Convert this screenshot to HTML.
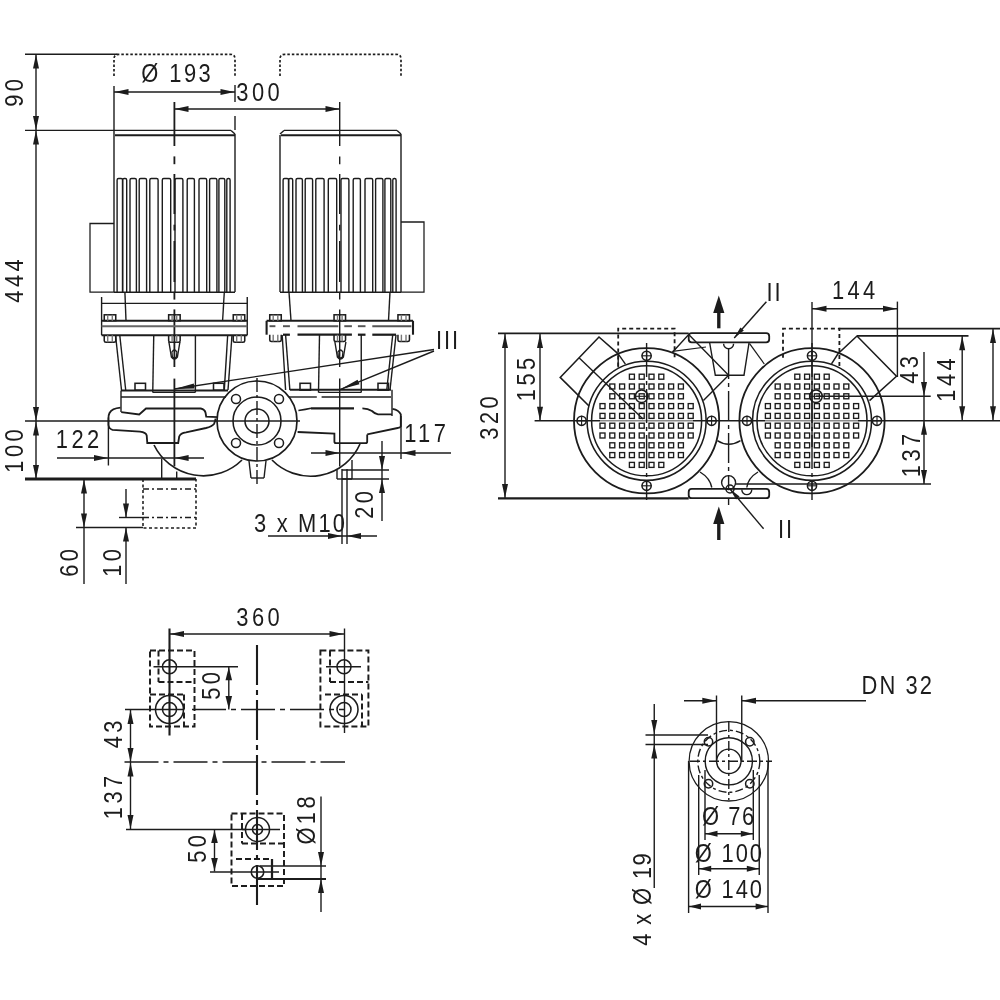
<!DOCTYPE html>
<html><head><meta charset="utf-8"><style>
html,body{margin:0;padding:0;background:#fff;}
svg{display:block;will-change:transform;}
text{font-family:"Liberation Sans",sans-serif;fill:#1c1c1c;}
</style></head><body>
<svg width="1000" height="1000" viewBox="0 0 1000 1000">
<rect width="1000" height="1000" fill="#fff"/>
<line x1="25.00" y1="54.30" x2="117.50" y2="54.30" stroke="#1c1c1c" stroke-width="1.40"/>
<line x1="36.00" y1="54.30" x2="36.00" y2="479.00" stroke="#1c1c1c" stroke-width="1.40"/>
<polygon points="36.00,54.50 39.00,68.50 33.00,68.50" fill="#1c1c1c"/>
<polygon points="36.00,130.00 33.00,116.00 39.00,116.00" fill="#1c1c1c"/>
<polygon points="36.00,130.50 39.00,144.50 33.00,144.50" fill="#1c1c1c"/>
<polygon points="36.00,421.00 33.00,407.00 39.00,407.00" fill="#1c1c1c"/>
<polygon points="36.00,421.50 39.00,435.50 33.00,435.50" fill="#1c1c1c"/>
<polygon points="36.00,479.00 33.00,465.00 39.00,465.00" fill="#1c1c1c"/>
<text x="1.95" y="0" font-size="25.5" text-anchor="middle" style="letter-spacing:3.9px" transform="translate(23.00,93.00) rotate(-90) scale(0.86,1)">90</text>
<text x="1.95" y="0" font-size="25.5" text-anchor="middle" style="letter-spacing:3.9px" transform="translate(23.00,281.00) rotate(-90) scale(0.86,1)">444</text>
<text x="1.95" y="0" font-size="25.5" text-anchor="middle" style="letter-spacing:3.9px" transform="translate(23.00,451.00) rotate(-90) scale(0.86,1)">100</text>
<line x1="25.00" y1="421.00" x2="300.00" y2="421.00" stroke="#1c1c1c" stroke-width="1.40"/>
<line x1="25.00" y1="479.00" x2="196.00" y2="479.00" stroke="#1c1c1c" stroke-width="3.08"/>
<path d="M114,76 V59 Q114,54.3 119,54.3 H230 Q235,54.3 235,59 V76" fill="none" stroke="#1c1c1c" stroke-width="1.68" stroke-dasharray="2.5 2"/>
<path d="M280,76 V59 Q280,54.3 285,54.3 H396 Q401,54.3 401,59 V76" fill="none" stroke="#1c1c1c" stroke-width="1.68" stroke-dasharray="2.5 2"/>
<line x1="114.00" y1="92.00" x2="235.00" y2="92.00" stroke="#1c1c1c" stroke-width="1.40"/>
<polygon points="114.50,92.00 128.50,89.00 128.50,95.00" fill="#1c1c1c"/>
<polygon points="234.50,92.00 220.50,95.00 220.50,89.00" fill="#1c1c1c"/>
<line x1="235.00" y1="85.00" x2="235.00" y2="102.00" stroke="#1c1c1c" stroke-width="1.40"/>
<line x1="235.00" y1="116.00" x2="235.00" y2="130.00" stroke="#1c1c1c" stroke-width="1.40"/>
<text x="1.40" y="0" font-size="25.5" text-anchor="middle" style="letter-spacing:2.8px" transform="translate(176.00,81.50) scale(0.86,1)">Ø 193</text>
<line x1="174.00" y1="109.00" x2="340.00" y2="109.00" stroke="#1c1c1c" stroke-width="1.40"/>
<polygon points="174.50,109.00 188.50,106.00 188.50,112.00" fill="#1c1c1c"/>
<polygon points="339.50,109.00 325.50,112.00 325.50,106.00" fill="#1c1c1c"/>
<text x="1.95" y="0" font-size="25.5" text-anchor="middle" style="letter-spacing:3.9px" transform="translate(258.00,101.00) scale(0.86,1)">300</text>
<line x1="174.40" y1="102.00" x2="174.40" y2="146.00" stroke="#1c1c1c" stroke-width="1.82"/>
<line x1="174.40" y1="156.40" x2="174.40" y2="164.20" stroke="#1c1c1c" stroke-width="1.82"/>
<line x1="174.40" y1="174.00" x2="174.40" y2="214.00" stroke="#1c1c1c" stroke-width="1.82"/>
<line x1="174.40" y1="224.70" x2="174.40" y2="230.50" stroke="#1c1c1c" stroke-width="1.82"/>
<line x1="174.40" y1="241.00" x2="174.40" y2="282.00" stroke="#1c1c1c" stroke-width="1.82"/>
<line x1="174.40" y1="291.80" x2="174.40" y2="299.60" stroke="#1c1c1c" stroke-width="1.82"/>
<line x1="174.40" y1="309.40" x2="174.40" y2="367.00" stroke="#1c1c1c" stroke-width="1.82"/>
<line x1="174.40" y1="378.60" x2="174.40" y2="466.40" stroke="#1c1c1c" stroke-width="1.82"/>
<line x1="339.70" y1="102.00" x2="339.70" y2="146.00" stroke="#1c1c1c" stroke-width="1.40"/>
<line x1="339.70" y1="156.40" x2="339.70" y2="164.20" stroke="#1c1c1c" stroke-width="1.40"/>
<line x1="339.70" y1="174.00" x2="339.70" y2="214.00" stroke="#1c1c1c" stroke-width="1.40"/>
<line x1="339.70" y1="224.70" x2="339.70" y2="230.50" stroke="#1c1c1c" stroke-width="1.40"/>
<line x1="339.70" y1="241.00" x2="339.70" y2="282.00" stroke="#1c1c1c" stroke-width="1.40"/>
<line x1="339.70" y1="291.80" x2="339.70" y2="299.60" stroke="#1c1c1c" stroke-width="1.40"/>
<line x1="339.70" y1="309.40" x2="339.70" y2="367.00" stroke="#1c1c1c" stroke-width="1.40"/>
<line x1="339.70" y1="378.60" x2="339.70" y2="466.40" stroke="#1c1c1c" stroke-width="1.40"/>
<line x1="114.00" y1="86.00" x2="114.00" y2="292.00" stroke="#1c1c1c" stroke-width="1.40"/>
<line x1="25.00" y1="130.40" x2="231.00" y2="130.40" stroke="#1c1c1c" stroke-width="1.40"/>
<line x1="231.00" y1="130.40" x2="235.00" y2="134.00" stroke="#1c1c1c" stroke-width="1.40"/>
<line x1="235.00" y1="134.00" x2="235.00" y2="292.00" stroke="#1c1c1c" stroke-width="1.40"/>
<line x1="115.00" y1="135.30" x2="235.00" y2="135.30" stroke="#1c1c1c" stroke-width="1.96"/>
<path d="M117.1,292 V180 Q117.1,178.5 118.6,178.5 H121.1 Q122.6,178.5 122.6,180 V292" fill="none" stroke="#1c1c1c" stroke-width="1.40"/>
<path d="M122.6,292 V180 Q122.6,178.5 124.1,178.5 H125.2 Q126.7,178.5 126.7,180 V292" fill="none" stroke="#1c1c1c" stroke-width="1.40"/>
<path d="M130,292 V180 Q130,178.5 131.5,178.5 H134.9 Q136.4,178.5 136.4,180 V292" fill="none" stroke="#1c1c1c" stroke-width="1.40"/>
<path d="M139.2,292 V180 Q139.2,178.5 140.7,178.5 H145.1 Q146.6,178.5 146.6,180 V292" fill="none" stroke="#1c1c1c" stroke-width="1.40"/>
<path d="M149.8,292 V180 Q149.8,178.5 151.3,178.5 H156.6 Q158.1,178.5 158.1,180 V292" fill="none" stroke="#1c1c1c" stroke-width="1.40"/>
<path d="M162.3,292 V180 Q162.3,178.5 163.8,178.5 H169.2 Q170.7,178.5 170.7,180 V292" fill="none" stroke="#1c1c1c" stroke-width="1.40"/>
<path d="M175,292 V180 Q175,178.5 176.5,178.5 H181.4 Q182.9,178.5 182.9,180 V292" fill="none" stroke="#1c1c1c" stroke-width="1.40"/>
<path d="M187.2,292 V180 Q187.2,178.5 188.7,178.5 H192.9 Q194.4,178.5 194.4,180 V292" fill="none" stroke="#1c1c1c" stroke-width="1.40"/>
<path d="M199,292 V180 Q199,178.5 200.5,178.5 H205.2 Q206.7,178.5 206.7,180 V292" fill="none" stroke="#1c1c1c" stroke-width="1.40"/>
<path d="M209.6,292 V180 Q209.6,178.5 211.1,178.5 H215.4 Q216.9,178.5 216.9,180 V292" fill="none" stroke="#1c1c1c" stroke-width="1.40"/>
<path d="M218.9,292 V180 Q218.9,178.5 220.4,178.5 H223.3 Q224.8,178.5 224.8,180 V292" fill="none" stroke="#1c1c1c" stroke-width="1.40"/>
<path d="M226.8,292 V180 Q226.8,178.5 228.3,178.5 H228.6 Q230.1,178.5 230.1,180 V292" fill="none" stroke="#1c1c1c" stroke-width="1.40"/>
<line x1="114.00" y1="292.20" x2="235.00" y2="292.20" stroke="#1c1c1c" stroke-width="1.54"/>
<polyline points="114.00,223.50 90.00,223.50 90.00,292.20 114.00,292.20" fill="none" stroke="#1c1c1c" stroke-width="1.26"/>
<line x1="280.00" y1="135.00" x2="280.00" y2="292.00" stroke="#1c1c1c" stroke-width="1.40"/>
<line x1="280.00" y1="134.00" x2="284.00" y2="130.40" stroke="#1c1c1c" stroke-width="1.40"/>
<line x1="284.00" y1="130.40" x2="397.00" y2="130.40" stroke="#1c1c1c" stroke-width="1.40"/>
<line x1="397.00" y1="130.40" x2="401.00" y2="134.00" stroke="#1c1c1c" stroke-width="1.40"/>
<line x1="401.00" y1="134.00" x2="401.00" y2="292.00" stroke="#1c1c1c" stroke-width="1.40"/>
<line x1="281.00" y1="135.30" x2="401.00" y2="135.30" stroke="#1c1c1c" stroke-width="1.96"/>
<path d="M283.1,292 V180 Q283.1,178.5 284.6,178.5 H287.1 Q288.6,178.5 288.6,180 V292" fill="none" stroke="#1c1c1c" stroke-width="1.40"/>
<path d="M288.6,292 V180 Q288.6,178.5 290.1,178.5 H291.2 Q292.7,178.5 292.7,180 V292" fill="none" stroke="#1c1c1c" stroke-width="1.40"/>
<path d="M296,292 V180 Q296,178.5 297.5,178.5 H300.9 Q302.4,178.5 302.4,180 V292" fill="none" stroke="#1c1c1c" stroke-width="1.40"/>
<path d="M305.2,292 V180 Q305.2,178.5 306.7,178.5 H311.1 Q312.6,178.5 312.6,180 V292" fill="none" stroke="#1c1c1c" stroke-width="1.40"/>
<path d="M315.8,292 V180 Q315.8,178.5 317.3,178.5 H322.6 Q324.1,178.5 324.1,180 V292" fill="none" stroke="#1c1c1c" stroke-width="1.40"/>
<path d="M328.3,292 V180 Q328.3,178.5 329.8,178.5 H335.2 Q336.7,178.5 336.7,180 V292" fill="none" stroke="#1c1c1c" stroke-width="1.40"/>
<path d="M341,292 V180 Q341,178.5 342.5,178.5 H347.4 Q348.9,178.5 348.9,180 V292" fill="none" stroke="#1c1c1c" stroke-width="1.40"/>
<path d="M353.2,292 V180 Q353.2,178.5 354.7,178.5 H358.9 Q360.4,178.5 360.4,180 V292" fill="none" stroke="#1c1c1c" stroke-width="1.40"/>
<path d="M365,292 V180 Q365,178.5 366.5,178.5 H371.2 Q372.7,178.5 372.7,180 V292" fill="none" stroke="#1c1c1c" stroke-width="1.40"/>
<path d="M375.6,292 V180 Q375.6,178.5 377.1,178.5 H381.4 Q382.9,178.5 382.9,180 V292" fill="none" stroke="#1c1c1c" stroke-width="1.40"/>
<path d="M384.9,292 V180 Q384.9,178.5 386.4,178.5 H389.3 Q390.8,178.5 390.8,180 V292" fill="none" stroke="#1c1c1c" stroke-width="1.40"/>
<path d="M392.8,292 V180 Q392.8,178.5 394.3,178.5 H394.6 Q396.1,178.5 396.1,180 V292" fill="none" stroke="#1c1c1c" stroke-width="1.40"/>
<line x1="280.00" y1="292.20" x2="401.00" y2="292.20" stroke="#1c1c1c" stroke-width="1.54"/>
<polyline points="401.00,222.00 424.00,222.00 424.00,292.20 401.00,292.20" fill="none" stroke="#1c1c1c" stroke-width="1.26"/>
<line x1="101.60" y1="297.00" x2="101.60" y2="335.20" stroke="#1c1c1c" stroke-width="1.40"/>
<line x1="247.25" y1="297.00" x2="247.25" y2="335.20" stroke="#1c1c1c" stroke-width="1.40"/>
<line x1="101.60" y1="303.40" x2="247.25" y2="303.40" stroke="#1c1c1c" stroke-width="1.26"/>
<line x1="124.90" y1="292.00" x2="126.00" y2="320.70" stroke="#1c1c1c" stroke-width="1.40"/>
<line x1="224.30" y1="292.00" x2="222.60" y2="320.70" stroke="#1c1c1c" stroke-width="1.40"/>
<line x1="101.60" y1="320.70" x2="247.25" y2="320.70" stroke="#1c1c1c" stroke-width="2.10"/>
<line x1="101.60" y1="326.30" x2="247.25" y2="326.30" stroke="#666" stroke-width="1.96"/>
<line x1="101.60" y1="335.20" x2="247.25" y2="335.20" stroke="#1c1c1c" stroke-width="2.10"/>
<rect x="104.25" y="314.80" width="11.50" height="5.90" fill="none" stroke="#1c1c1c" stroke-width="1.54"/>
<line x1="107.70" y1="314.80" x2="107.70" y2="320.70" stroke="#777" stroke-width="1.40"/>
<line x1="112.30" y1="314.80" x2="112.30" y2="320.70" stroke="#777" stroke-width="1.40"/>
<path d="M104.25,335.2 V340.7 Q104.25,342.2 106,342.2 H114 Q115.75,342.2 115.75,340.7 V335.2" fill="none" stroke="#1c1c1c" stroke-width="1.54"/>
<line x1="107.70" y1="335.20" x2="107.70" y2="342.20" stroke="#777" stroke-width="1.40"/>
<line x1="112.30" y1="335.20" x2="112.30" y2="342.20" stroke="#777" stroke-width="1.40"/>
<rect x="168.65" y="314.80" width="11.50" height="5.90" fill="none" stroke="#1c1c1c" stroke-width="1.54"/>
<line x1="172.10" y1="314.80" x2="172.10" y2="320.70" stroke="#777" stroke-width="1.40"/>
<line x1="176.70" y1="314.80" x2="176.70" y2="320.70" stroke="#777" stroke-width="1.40"/>
<path d="M168.65,335.2 V340.7 Q168.65,342.2 170.4,342.2 H178.4 Q180.15,342.2 180.15,340.7 V335.2" fill="none" stroke="#1c1c1c" stroke-width="1.54"/>
<line x1="172.10" y1="335.20" x2="172.10" y2="342.20" stroke="#777" stroke-width="1.40"/>
<line x1="176.70" y1="335.20" x2="176.70" y2="342.20" stroke="#777" stroke-width="1.40"/>
<rect x="233.25" y="314.80" width="11.50" height="5.90" fill="none" stroke="#1c1c1c" stroke-width="1.54"/>
<line x1="236.70" y1="314.80" x2="236.70" y2="320.70" stroke="#777" stroke-width="1.40"/>
<line x1="241.30" y1="314.80" x2="241.30" y2="320.70" stroke="#777" stroke-width="1.40"/>
<path d="M233.25,335.2 V340.7 Q233.25,342.2 235,342.2 H243 Q244.75,342.2 244.75,340.7 V335.2" fill="none" stroke="#1c1c1c" stroke-width="1.54"/>
<line x1="236.70" y1="335.20" x2="236.70" y2="342.20" stroke="#777" stroke-width="1.40"/>
<line x1="241.30" y1="335.20" x2="241.30" y2="342.20" stroke="#777" stroke-width="1.40"/>
<line x1="289.00" y1="292.00" x2="291.00" y2="320.80" stroke="#1c1c1c" stroke-width="1.40"/>
<line x1="390.00" y1="292.00" x2="388.50" y2="320.80" stroke="#1c1c1c" stroke-width="1.40"/>
<line x1="266.60" y1="320.80" x2="413.00" y2="320.80" stroke="#1c1c1c" stroke-width="2.10"/>
<line x1="266.60" y1="320.80" x2="266.60" y2="334.70" stroke="#1c1c1c" stroke-width="2.10"/>
<line x1="413.00" y1="320.80" x2="413.00" y2="334.70" stroke="#1c1c1c" stroke-width="2.10"/>
<line x1="269.50" y1="326.20" x2="275.40" y2="326.20" stroke="#555" stroke-width="1.96"/>
<line x1="283.00" y1="326.20" x2="289.90" y2="326.20" stroke="#555" stroke-width="1.96"/>
<line x1="297.50" y1="326.20" x2="338.30" y2="326.20" stroke="#555" stroke-width="1.96"/>
<line x1="344.30" y1="326.20" x2="351.90" y2="326.20" stroke="#555" stroke-width="1.96"/>
<line x1="357.90" y1="326.20" x2="365.50" y2="326.20" stroke="#555" stroke-width="1.96"/>
<line x1="372.30" y1="326.20" x2="411.40" y2="326.20" stroke="#555" stroke-width="1.96"/>
<line x1="283.00" y1="334.70" x2="289.90" y2="334.70" stroke="#1c1c1c" stroke-width="2.24"/>
<line x1="297.50" y1="334.70" x2="351.90" y2="334.70" stroke="#1c1c1c" stroke-width="2.24"/>
<line x1="357.90" y1="334.70" x2="365.50" y2="334.70" stroke="#1c1c1c" stroke-width="2.24"/>
<line x1="372.30" y1="334.70" x2="396.10" y2="334.70" stroke="#1c1c1c" stroke-width="2.24"/>
<rect x="269.75" y="314.80" width="11.50" height="6.00" fill="none" stroke="#1c1c1c" stroke-width="1.54"/>
<line x1="273.20" y1="314.80" x2="273.20" y2="320.80" stroke="#777" stroke-width="1.40"/>
<line x1="277.80" y1="314.80" x2="277.80" y2="320.80" stroke="#777" stroke-width="1.40"/>
<path d="M269.75,334.7 V340.0 Q269.75,341.5 271.5,341.5 H279.5 Q281.25,341.5 281.25,340.0 V334.7" fill="none" stroke="#1c1c1c" stroke-width="1.54"/>
<line x1="273.20" y1="334.70" x2="273.20" y2="341.50" stroke="#777" stroke-width="1.40"/>
<line x1="277.80" y1="334.70" x2="277.80" y2="341.50" stroke="#777" stroke-width="1.40"/>
<rect x="334.05" y="314.80" width="11.50" height="6.00" fill="none" stroke="#1c1c1c" stroke-width="1.54"/>
<line x1="337.50" y1="314.80" x2="337.50" y2="320.80" stroke="#777" stroke-width="1.40"/>
<line x1="342.10" y1="314.80" x2="342.10" y2="320.80" stroke="#777" stroke-width="1.40"/>
<path d="M334.05,334.7 V340.0 Q334.05,341.5 335.8,341.5 H343.8 Q345.55,341.5 345.55,340.0 V334.7" fill="none" stroke="#1c1c1c" stroke-width="1.54"/>
<line x1="337.50" y1="334.70" x2="337.50" y2="341.50" stroke="#777" stroke-width="1.40"/>
<line x1="342.10" y1="334.70" x2="342.10" y2="341.50" stroke="#777" stroke-width="1.40"/>
<rect x="397.95" y="314.80" width="11.50" height="6.00" fill="none" stroke="#1c1c1c" stroke-width="1.54"/>
<line x1="401.40" y1="314.80" x2="401.40" y2="320.80" stroke="#777" stroke-width="1.40"/>
<line x1="406.00" y1="314.80" x2="406.00" y2="320.80" stroke="#777" stroke-width="1.40"/>
<path d="M397.95,334.7 V340.0 Q397.95,341.5 399.7,341.5 H407.7 Q409.45,341.5 409.45,340.0 V334.7" fill="none" stroke="#1c1c1c" stroke-width="1.54"/>
<line x1="401.40" y1="334.70" x2="401.40" y2="341.50" stroke="#777" stroke-width="1.40"/>
<line x1="406.00" y1="334.70" x2="406.00" y2="341.50" stroke="#777" stroke-width="1.40"/>
<line x1="115.50" y1="335.00" x2="121.50" y2="390.00" stroke="#1c1c1c" stroke-width="1.40"/>
<line x1="119.75" y1="335.00" x2="125.70" y2="390.00" stroke="#1c1c1c" stroke-width="1.40"/>
<line x1="232.00" y1="335.00" x2="228.00" y2="390.00" stroke="#1c1c1c" stroke-width="1.40"/>
<line x1="227.70" y1="335.00" x2="224.30" y2="390.00" stroke="#1c1c1c" stroke-width="1.40"/>
<line x1="153.75" y1="335.00" x2="152.75" y2="392.40" stroke="#1c1c1c" stroke-width="1.40"/>
<line x1="195.40" y1="335.00" x2="195.40" y2="392.40" stroke="#1c1c1c" stroke-width="1.40"/>
<line x1="152.75" y1="392.40" x2="195.40" y2="392.40" stroke="#1c1c1c" stroke-width="1.40"/>
<rect x="135.00" y="383.30" width="10.50" height="6.90" fill="none" stroke="#1c1c1c" stroke-width="1.54"/>
<rect x="213.50" y="383.30" width="10.50" height="6.90" fill="none" stroke="#1c1c1c" stroke-width="1.54"/>
<path d="M168.9,342 L171.4,357 Q174.4,361 177.4,357 L179.9,342" fill="none" stroke="#1c1c1c" stroke-width="1.40"/>
<path d="M171.9,352 Q174.4,348 176.9,352 L176.4,357 Q174.4,359 172.4,357 Z" fill="none" stroke="#1c1c1c" stroke-width="1.26"/>
<line x1="282.20" y1="335.00" x2="285.60" y2="390.00" stroke="#1c1c1c" stroke-width="1.40"/>
<line x1="285.60" y1="335.00" x2="289.85" y2="390.00" stroke="#1c1c1c" stroke-width="1.40"/>
<line x1="396.00" y1="335.00" x2="390.00" y2="390.00" stroke="#1c1c1c" stroke-width="1.40"/>
<line x1="392.70" y1="335.00" x2="386.75" y2="390.00" stroke="#1c1c1c" stroke-width="1.40"/>
<line x1="319.50" y1="335.00" x2="318.50" y2="392.40" stroke="#1c1c1c" stroke-width="1.40"/>
<line x1="361.25" y1="335.00" x2="361.25" y2="392.40" stroke="#1c1c1c" stroke-width="1.40"/>
<line x1="318.50" y1="392.40" x2="361.25" y2="392.40" stroke="#1c1c1c" stroke-width="1.40"/>
<rect x="300.00" y="383.30" width="10.50" height="6.90" fill="none" stroke="#1c1c1c" stroke-width="1.54"/>
<rect x="378.00" y="383.30" width="10.50" height="6.90" fill="none" stroke="#1c1c1c" stroke-width="1.54"/>
<path d="M334.9,342 L337.4,357 Q340.4,361 343.4,357 L345.9,342" fill="none" stroke="#1c1c1c" stroke-width="1.40"/>
<path d="M337.9,352 Q340.4,348 342.9,352 L342.4,357 Q340.4,359 338.4,357 Z" fill="none" stroke="#1c1c1c" stroke-width="1.26"/>
<line x1="121.00" y1="390.60" x2="228.00" y2="390.60" stroke="#1c1c1c" stroke-width="1.96"/>
<line x1="121.00" y1="397.00" x2="226.00" y2="397.00" stroke="#1c1c1c" stroke-width="1.40"/>
<line x1="121.00" y1="390.60" x2="121.00" y2="412.00" stroke="#1c1c1c" stroke-width="1.40"/>
<path d="M121.2,412.2 L139.2,414.5 L146,408.5 L200.7,408.5 Q205,409.5 205.6,413 L206.2,416.7 L218,417.2" fill="none" stroke="#1c1c1c" stroke-width="1.82"/>
<path d="M120.5,407.7 Q112,408.5 109.5,413 Q108.5,415 108.5,418 L108.5,425 Q109,429 112.5,429.8 L140,431.7 Q146,432.5 146.7,435.5 L147.3,443 L178.2,443 L179.2,436.5 Q180.5,433 186,432.3 L206,428 Q212,426.5 214,424 Q215.5,421 215.5,418.5" fill="none" stroke="#1c1c1c" stroke-width="1.82"/>
<path d="M154,445 A55,55 0 0 0 242,460" fill="none" stroke="#1c1c1c" stroke-width="1.68"/>
<line x1="161.70" y1="458.70" x2="161.70" y2="479.00" stroke="#1c1c1c" stroke-width="1.40"/>
<line x1="176.70" y1="471.50" x2="176.70" y2="479.00" stroke="#1c1c1c" stroke-width="1.40"/>
<line x1="108.40" y1="417.50" x2="108.40" y2="465.50" stroke="#1c1c1c" stroke-width="1.40"/>
<line x1="57.00" y1="458.00" x2="204.00" y2="458.00" stroke="#1c1c1c" stroke-width="1.40"/>
<polygon points="108.00,458.00 94.00,461.00 94.00,455.00" fill="#1c1c1c"/>
<polygon points="174.60,458.00 188.60,455.00 188.60,461.00" fill="#1c1c1c"/>
<text x="1.95" y="0" font-size="25.5" text-anchor="middle" style="letter-spacing:3.9px" transform="translate(77.50,447.50) scale(0.86,1)">122</text>
<line x1="289.85" y1="389.65" x2="391.00" y2="389.65" stroke="#1c1c1c" stroke-width="1.96"/>
<line x1="288.80" y1="397.00" x2="316.80" y2="397.00" stroke="#1c1c1c" stroke-width="1.40"/>
<line x1="321.60" y1="397.00" x2="391.00" y2="397.00" stroke="#1c1c1c" stroke-width="1.40"/>
<line x1="392.00" y1="389.65" x2="392.00" y2="416.00" stroke="#1c1c1c" stroke-width="1.40"/>
<path d="M298.4,410.4 Q306,409.5 311,408.3" fill="none" stroke="#1c1c1c" stroke-width="1.54"/>
<line x1="311.00" y1="408.30" x2="354.00" y2="408.30" stroke="#1c1c1c" stroke-width="2.24"/>
<path d="M362.4,408.3 Q368,408.5 372,411 Q375,414 378,414.4 L392,414.4" fill="none" stroke="#1c1c1c" stroke-width="1.82"/>
<path d="M392.5,408.8 Q399,410 400.8,414.4 L400.8,426.4 Q400,428 397.6,428 L367.2,434.4" fill="none" stroke="#1c1c1c" stroke-width="1.82"/>
<path d="M297.6,432 L334.4,433.6 L334.4,441.5 Q334.4,443.2 336,443.2 L365.5,443.2 Q367.2,443.2 367.2,441.5 L367.2,434.4" fill="none" stroke="#1c1c1c" stroke-width="1.82"/>
<path d="M272,460 A54,54 0 0 0 360,444" fill="none" stroke="#1c1c1c" stroke-width="1.68"/>
<circle cx="257.00" cy="421.00" r="40.00" fill="none" stroke="#1c1c1c" stroke-width="1.68"/>
<circle cx="257.00" cy="421.00" r="24.00" fill="none" stroke="#1c1c1c" stroke-width="1.54"/>
<circle cx="257.00" cy="421.00" r="12.00" fill="none" stroke="#1c1c1c" stroke-width="1.54"/>
<circle cx="236.00" cy="399.00" r="4.50" fill="none" stroke="#1c1c1c" stroke-width="1.54"/>
<circle cx="279.00" cy="399.00" r="4.50" fill="none" stroke="#1c1c1c" stroke-width="1.54"/>
<circle cx="236.00" cy="443.00" r="4.50" fill="none" stroke="#1c1c1c" stroke-width="1.54"/>
<circle cx="279.00" cy="443.00" r="4.50" fill="none" stroke="#1c1c1c" stroke-width="1.54"/>
<line x1="257.00" y1="378.00" x2="257.00" y2="484.00" stroke="#1c1c1c" stroke-width="1.40" stroke-dasharray="14 3 3 3"/>
<line x1="249.00" y1="461.00" x2="251.00" y2="478.00" stroke="#1c1c1c" stroke-width="1.40"/>
<line x1="251.00" y1="478.00" x2="264.00" y2="478.00" stroke="#1c1c1c" stroke-width="1.40"/>
<line x1="264.00" y1="478.00" x2="266.00" y2="461.00" stroke="#1c1c1c" stroke-width="1.40"/>
<line x1="311.00" y1="453.00" x2="451.00" y2="453.00" stroke="#1c1c1c" stroke-width="1.40"/>
<polygon points="339.50,453.00 325.50,456.00 325.50,450.00" fill="#1c1c1c"/>
<polygon points="401.50,453.00 415.50,450.00 415.50,456.00" fill="#1c1c1c"/>
<line x1="401.00" y1="416.00" x2="401.00" y2="459.00" stroke="#1c1c1c" stroke-width="1.40"/>
<text x="1.95" y="0" font-size="25.5" text-anchor="middle" style="letter-spacing:3.9px" transform="translate(425.00,441.50) scale(0.86,1)">117</text>
<line x1="342.00" y1="469.00" x2="342.00" y2="544.00" stroke="#1c1c1c" stroke-width="1.40"/>
<line x1="347.00" y1="469.00" x2="347.00" y2="544.00" stroke="#1c1c1c" stroke-width="1.40"/>
<line x1="342.00" y1="470.00" x2="389.00" y2="470.00" stroke="#1c1c1c" stroke-width="1.40"/>
<line x1="342.00" y1="479.00" x2="389.00" y2="479.00" stroke="#1c1c1c" stroke-width="1.40"/>
<line x1="337.00" y1="470.00" x2="337.00" y2="479.00" stroke="#1c1c1c" stroke-width="1.40"/>
<line x1="352.00" y1="460.00" x2="352.00" y2="479.00" stroke="#1c1c1c" stroke-width="1.40"/>
<line x1="337.00" y1="479.00" x2="352.00" y2="479.00" stroke="#1c1c1c" stroke-width="1.40"/>
<line x1="382.00" y1="441.00" x2="382.00" y2="521.00" stroke="#1c1c1c" stroke-width="1.40"/>
<polygon points="382.00,470.00 379.00,456.00 385.00,456.00" fill="#1c1c1c"/>
<polygon points="382.00,479.00 385.00,493.00 379.00,493.00" fill="#1c1c1c"/>
<text x="1.95" y="0" font-size="25.5" text-anchor="middle" style="letter-spacing:3.9px" transform="translate(373.00,505.00) rotate(-90) scale(0.86,1)">20</text>
<line x1="268.00" y1="536.00" x2="377.00" y2="536.00" stroke="#1c1c1c" stroke-width="1.40"/>
<polygon points="342.00,536.00 328.00,539.00 328.00,533.00" fill="#1c1c1c"/>
<polygon points="347.00,536.00 361.00,533.00 361.00,539.00" fill="#1c1c1c"/>
<text x="1.25" y="0" font-size="25.5" text-anchor="middle" style="letter-spacing:2.5px" transform="translate(299.50,532.00) scale(0.86,1)">3 x M10</text>
<text x="1.10" y="0" font-size="25.5" text-anchor="middle" style="letter-spacing:2.2px" transform="translate(447.00,349.00) scale(0.86,1)">III</text>
<line x1="434.00" y1="349.50" x2="174.40" y2="389.00" stroke="#1c1c1c" stroke-width="1.40"/>
<line x1="434.00" y1="351.00" x2="340.00" y2="389.60" stroke="#1c1c1c" stroke-width="1.40"/>
<polygon points="174.40,389.00 193.80,383.53 194.55,388.47" fill="#1c1c1c"/>
<polygon points="340.00,389.60 357.57,379.72 359.46,384.35" fill="#1c1c1c"/>
<line x1="84.00" y1="479.00" x2="84.00" y2="584.00" stroke="#1c1c1c" stroke-width="1.40"/>
<polygon points="84.00,479.50 87.00,493.50 81.00,493.50" fill="#1c1c1c"/>
<polygon points="84.00,527.50 81.00,513.50 87.00,513.50" fill="#1c1c1c"/>
<line x1="76.00" y1="527.50" x2="143.00" y2="527.50" stroke="#1c1c1c" stroke-width="1.40"/>
<line x1="126.00" y1="489.00" x2="126.00" y2="517.50" stroke="#1c1c1c" stroke-width="1.40"/>
<polygon points="126.00,517.50 123.00,503.50 129.00,503.50" fill="#1c1c1c"/>
<line x1="126.00" y1="527.50" x2="126.00" y2="584.00" stroke="#1c1c1c" stroke-width="1.40"/>
<polygon points="126.00,527.50 129.00,541.50 123.00,541.50" fill="#1c1c1c"/>
<line x1="119.00" y1="517.50" x2="143.00" y2="517.50" stroke="#1c1c1c" stroke-width="1.40"/>
<text x="1.95" y="0" font-size="25.5" text-anchor="middle" style="letter-spacing:3.9px" transform="translate(78.00,563.00) rotate(-90) scale(0.86,1)">60</text>
<text x="1.95" y="0" font-size="25.5" text-anchor="middle" style="letter-spacing:3.9px" transform="translate(121.00,563.00) rotate(-90) scale(0.86,1)">10</text>
<polyline points="143.00,479.00 143.00,528.00 196.00,528.00 196.00,479.00" fill="none" stroke="#1c1c1c" stroke-width="1.54" stroke-dasharray="3 2.5"/>
<line x1="143.00" y1="489.00" x2="196.00" y2="489.00" stroke="#1c1c1c" stroke-width="1.40" stroke-dasharray="6 3 2 3"/>
<line x1="143.00" y1="517.50" x2="196.00" y2="517.50" stroke="#1c1c1c" stroke-width="1.40" stroke-dasharray="6 3 2 3"/>
<line x1="505.00" y1="333.60" x2="505.00" y2="498.50" stroke="#1c1c1c" stroke-width="1.40"/>
<polygon points="505.00,334.00 508.00,348.00 502.00,348.00" fill="#1c1c1c"/>
<polygon points="505.00,498.00 502.00,484.00 508.00,484.00" fill="#1c1c1c"/>
<text x="1.95" y="0" font-size="25.5" text-anchor="middle" style="letter-spacing:3.9px" transform="translate(498.00,418.00) rotate(-90) scale(0.86,1)">320</text>
<line x1="498.00" y1="333.40" x2="688.70" y2="333.40" stroke="#1c1c1c" stroke-width="1.82"/>
<line x1="498.00" y1="498.30" x2="688.70" y2="498.30" stroke="#1c1c1c" stroke-width="2.24"/>
<line x1="540.00" y1="333.60" x2="540.00" y2="421.00" stroke="#1c1c1c" stroke-width="1.40"/>
<polygon points="540.00,334.00 543.00,348.00 537.00,348.00" fill="#1c1c1c"/>
<polygon points="540.00,420.80 537.00,406.80 543.00,406.80" fill="#1c1c1c"/>
<text x="1.95" y="0" font-size="25.5" text-anchor="middle" style="letter-spacing:3.9px" transform="translate(535.00,379.50) rotate(-90) scale(0.86,1)">155</text>
<line x1="534.60" y1="420.80" x2="600.00" y2="420.80" stroke="#1c1c1c" stroke-width="1.40"/>
<line x1="600.00" y1="420.80" x2="693.00" y2="420.80" stroke="#8a8a8a" stroke-width="1.40"/>
<line x1="693.00" y1="420.80" x2="765.00" y2="420.80" stroke="#1c1c1c" stroke-width="1.40"/>
<line x1="765.00" y1="420.80" x2="858.00" y2="420.80" stroke="#8a8a8a" stroke-width="1.40"/>
<line x1="858.00" y1="420.80" x2="1000.00" y2="420.80" stroke="#1c1c1c" stroke-width="1.40"/>
<circle cx="646.60" cy="420.80" r="72.60" fill="none" stroke="#1c1c1c" stroke-width="1.82"/>
<circle cx="646.60" cy="420.80" r="59.50" fill="none" stroke="#1c1c1c" stroke-width="1.54"/>
<circle cx="646.60" cy="420.80" r="55.00" fill="none" stroke="#1c1c1c" stroke-width="1.54"/>
<rect x="629.40" y="374.20" width="5" height="5" fill="none" stroke="#1c1c1c" stroke-width="1.35"/>
<rect x="639.20" y="374.20" width="5" height="5" fill="none" stroke="#1c1c1c" stroke-width="1.35"/>
<rect x="649.00" y="374.20" width="5" height="5" fill="none" stroke="#1c1c1c" stroke-width="1.35"/>
<rect x="658.80" y="374.20" width="5" height="5" fill="none" stroke="#1c1c1c" stroke-width="1.35"/>
<rect x="609.80" y="384.00" width="5" height="5" fill="none" stroke="#1c1c1c" stroke-width="1.35"/>
<rect x="619.60" y="384.00" width="5" height="5" fill="none" stroke="#1c1c1c" stroke-width="1.35"/>
<rect x="629.40" y="384.00" width="5" height="5" fill="none" stroke="#1c1c1c" stroke-width="1.35"/>
<rect x="639.20" y="384.00" width="5" height="5" fill="none" stroke="#1c1c1c" stroke-width="1.35"/>
<rect x="649.00" y="384.00" width="5" height="5" fill="none" stroke="#1c1c1c" stroke-width="1.35"/>
<rect x="658.80" y="384.00" width="5" height="5" fill="none" stroke="#1c1c1c" stroke-width="1.35"/>
<rect x="668.60" y="384.00" width="5" height="5" fill="none" stroke="#1c1c1c" stroke-width="1.35"/>
<rect x="678.40" y="384.00" width="5" height="5" fill="none" stroke="#1c1c1c" stroke-width="1.35"/>
<rect x="609.80" y="393.80" width="5" height="5" fill="none" stroke="#1c1c1c" stroke-width="1.35"/>
<rect x="619.60" y="393.80" width="5" height="5" fill="none" stroke="#1c1c1c" stroke-width="1.35"/>
<rect x="629.40" y="393.80" width="5" height="5" fill="none" stroke="#1c1c1c" stroke-width="1.35"/>
<rect x="639.20" y="393.80" width="5" height="5" fill="none" stroke="#1c1c1c" stroke-width="1.35"/>
<rect x="649.00" y="393.80" width="5" height="5" fill="none" stroke="#1c1c1c" stroke-width="1.35"/>
<rect x="658.80" y="393.80" width="5" height="5" fill="none" stroke="#1c1c1c" stroke-width="1.35"/>
<rect x="668.60" y="393.80" width="5" height="5" fill="none" stroke="#1c1c1c" stroke-width="1.35"/>
<rect x="678.40" y="393.80" width="5" height="5" fill="none" stroke="#1c1c1c" stroke-width="1.35"/>
<rect x="600.00" y="403.60" width="5" height="5" fill="none" stroke="#1c1c1c" stroke-width="1.35"/>
<rect x="609.80" y="403.60" width="5" height="5" fill="none" stroke="#1c1c1c" stroke-width="1.35"/>
<rect x="619.60" y="403.60" width="5" height="5" fill="none" stroke="#1c1c1c" stroke-width="1.35"/>
<rect x="629.40" y="403.60" width="5" height="5" fill="none" stroke="#1c1c1c" stroke-width="1.35"/>
<rect x="639.20" y="403.60" width="5" height="5" fill="none" stroke="#1c1c1c" stroke-width="1.35"/>
<rect x="649.00" y="403.60" width="5" height="5" fill="none" stroke="#1c1c1c" stroke-width="1.35"/>
<rect x="658.80" y="403.60" width="5" height="5" fill="none" stroke="#1c1c1c" stroke-width="1.35"/>
<rect x="668.60" y="403.60" width="5" height="5" fill="none" stroke="#1c1c1c" stroke-width="1.35"/>
<rect x="678.40" y="403.60" width="5" height="5" fill="none" stroke="#1c1c1c" stroke-width="1.35"/>
<rect x="688.20" y="403.60" width="5" height="5" fill="none" stroke="#1c1c1c" stroke-width="1.35"/>
<rect x="600.00" y="413.40" width="5" height="5" fill="none" stroke="#1c1c1c" stroke-width="1.35"/>
<rect x="609.80" y="413.40" width="5" height="5" fill="none" stroke="#1c1c1c" stroke-width="1.35"/>
<rect x="619.60" y="413.40" width="5" height="5" fill="none" stroke="#1c1c1c" stroke-width="1.35"/>
<rect x="629.40" y="413.40" width="5" height="5" fill="none" stroke="#1c1c1c" stroke-width="1.35"/>
<rect x="639.20" y="413.40" width="5" height="5" fill="none" stroke="#1c1c1c" stroke-width="1.35"/>
<rect x="649.00" y="413.40" width="5" height="5" fill="none" stroke="#1c1c1c" stroke-width="1.35"/>
<rect x="658.80" y="413.40" width="5" height="5" fill="none" stroke="#1c1c1c" stroke-width="1.35"/>
<rect x="668.60" y="413.40" width="5" height="5" fill="none" stroke="#1c1c1c" stroke-width="1.35"/>
<rect x="678.40" y="413.40" width="5" height="5" fill="none" stroke="#1c1c1c" stroke-width="1.35"/>
<rect x="688.20" y="413.40" width="5" height="5" fill="none" stroke="#1c1c1c" stroke-width="1.35"/>
<rect x="600.00" y="423.20" width="5" height="5" fill="none" stroke="#1c1c1c" stroke-width="1.35"/>
<rect x="609.80" y="423.20" width="5" height="5" fill="none" stroke="#1c1c1c" stroke-width="1.35"/>
<rect x="619.60" y="423.20" width="5" height="5" fill="none" stroke="#1c1c1c" stroke-width="1.35"/>
<rect x="629.40" y="423.20" width="5" height="5" fill="none" stroke="#1c1c1c" stroke-width="1.35"/>
<rect x="639.20" y="423.20" width="5" height="5" fill="none" stroke="#1c1c1c" stroke-width="1.35"/>
<rect x="649.00" y="423.20" width="5" height="5" fill="none" stroke="#1c1c1c" stroke-width="1.35"/>
<rect x="658.80" y="423.20" width="5" height="5" fill="none" stroke="#1c1c1c" stroke-width="1.35"/>
<rect x="668.60" y="423.20" width="5" height="5" fill="none" stroke="#1c1c1c" stroke-width="1.35"/>
<rect x="678.40" y="423.20" width="5" height="5" fill="none" stroke="#1c1c1c" stroke-width="1.35"/>
<rect x="688.20" y="423.20" width="5" height="5" fill="none" stroke="#1c1c1c" stroke-width="1.35"/>
<rect x="600.00" y="433.00" width="5" height="5" fill="none" stroke="#1c1c1c" stroke-width="1.35"/>
<rect x="609.80" y="433.00" width="5" height="5" fill="none" stroke="#1c1c1c" stroke-width="1.35"/>
<rect x="619.60" y="433.00" width="5" height="5" fill="none" stroke="#1c1c1c" stroke-width="1.35"/>
<rect x="629.40" y="433.00" width="5" height="5" fill="none" stroke="#1c1c1c" stroke-width="1.35"/>
<rect x="639.20" y="433.00" width="5" height="5" fill="none" stroke="#1c1c1c" stroke-width="1.35"/>
<rect x="649.00" y="433.00" width="5" height="5" fill="none" stroke="#1c1c1c" stroke-width="1.35"/>
<rect x="658.80" y="433.00" width="5" height="5" fill="none" stroke="#1c1c1c" stroke-width="1.35"/>
<rect x="668.60" y="433.00" width="5" height="5" fill="none" stroke="#1c1c1c" stroke-width="1.35"/>
<rect x="678.40" y="433.00" width="5" height="5" fill="none" stroke="#1c1c1c" stroke-width="1.35"/>
<rect x="688.20" y="433.00" width="5" height="5" fill="none" stroke="#1c1c1c" stroke-width="1.35"/>
<rect x="609.80" y="442.80" width="5" height="5" fill="none" stroke="#1c1c1c" stroke-width="1.35"/>
<rect x="619.60" y="442.80" width="5" height="5" fill="none" stroke="#1c1c1c" stroke-width="1.35"/>
<rect x="629.40" y="442.80" width="5" height="5" fill="none" stroke="#1c1c1c" stroke-width="1.35"/>
<rect x="639.20" y="442.80" width="5" height="5" fill="none" stroke="#1c1c1c" stroke-width="1.35"/>
<rect x="649.00" y="442.80" width="5" height="5" fill="none" stroke="#1c1c1c" stroke-width="1.35"/>
<rect x="658.80" y="442.80" width="5" height="5" fill="none" stroke="#1c1c1c" stroke-width="1.35"/>
<rect x="668.60" y="442.80" width="5" height="5" fill="none" stroke="#1c1c1c" stroke-width="1.35"/>
<rect x="678.40" y="442.80" width="5" height="5" fill="none" stroke="#1c1c1c" stroke-width="1.35"/>
<rect x="609.80" y="452.60" width="5" height="5" fill="none" stroke="#1c1c1c" stroke-width="1.35"/>
<rect x="619.60" y="452.60" width="5" height="5" fill="none" stroke="#1c1c1c" stroke-width="1.35"/>
<rect x="629.40" y="452.60" width="5" height="5" fill="none" stroke="#1c1c1c" stroke-width="1.35"/>
<rect x="639.20" y="452.60" width="5" height="5" fill="none" stroke="#1c1c1c" stroke-width="1.35"/>
<rect x="649.00" y="452.60" width="5" height="5" fill="none" stroke="#1c1c1c" stroke-width="1.35"/>
<rect x="658.80" y="452.60" width="5" height="5" fill="none" stroke="#1c1c1c" stroke-width="1.35"/>
<rect x="668.60" y="452.60" width="5" height="5" fill="none" stroke="#1c1c1c" stroke-width="1.35"/>
<rect x="678.40" y="452.60" width="5" height="5" fill="none" stroke="#1c1c1c" stroke-width="1.35"/>
<rect x="629.40" y="462.40" width="5" height="5" fill="none" stroke="#1c1c1c" stroke-width="1.35"/>
<rect x="639.20" y="462.40" width="5" height="5" fill="none" stroke="#1c1c1c" stroke-width="1.35"/>
<rect x="649.00" y="462.40" width="5" height="5" fill="none" stroke="#1c1c1c" stroke-width="1.35"/>
<rect x="658.80" y="462.40" width="5" height="5" fill="none" stroke="#1c1c1c" stroke-width="1.35"/>
<circle cx="646.60" cy="355.80" r="4.60" fill="none" stroke="#1c1c1c" stroke-width="1.54"/>
<line x1="641.60" y1="355.80" x2="651.60" y2="355.80" stroke="#1c1c1c" stroke-width="1.12"/>
<line x1="646.60" y1="350.80" x2="646.60" y2="360.80" stroke="#1c1c1c" stroke-width="1.12"/>
<circle cx="646.60" cy="485.80" r="4.60" fill="none" stroke="#1c1c1c" stroke-width="1.54"/>
<line x1="641.60" y1="485.80" x2="651.60" y2="485.80" stroke="#1c1c1c" stroke-width="1.12"/>
<line x1="646.60" y1="480.80" x2="646.60" y2="490.80" stroke="#1c1c1c" stroke-width="1.12"/>
<circle cx="581.60" cy="420.80" r="4.60" fill="none" stroke="#1c1c1c" stroke-width="1.54"/>
<line x1="576.60" y1="420.80" x2="586.60" y2="420.80" stroke="#1c1c1c" stroke-width="1.12"/>
<line x1="581.60" y1="415.80" x2="581.60" y2="425.80" stroke="#1c1c1c" stroke-width="1.12"/>
<circle cx="711.60" cy="420.80" r="4.60" fill="none" stroke="#1c1c1c" stroke-width="1.54"/>
<line x1="706.60" y1="420.80" x2="716.60" y2="420.80" stroke="#1c1c1c" stroke-width="1.12"/>
<line x1="711.60" y1="415.80" x2="711.60" y2="425.80" stroke="#1c1c1c" stroke-width="1.12"/>
<circle cx="641.60" cy="396.30" r="6.20" fill="none" stroke="#1c1c1c" stroke-width="1.54"/>
<line x1="634.60" y1="396.30" x2="648.60" y2="396.30" stroke="#1c1c1c" stroke-width="1.12"/>
<line x1="646.60" y1="343.00" x2="646.60" y2="500.00" stroke="#1c1c1c" stroke-width="1.40" stroke-dasharray="34 4 4 4"/>
<circle cx="812.00" cy="420.80" r="72.60" fill="none" stroke="#1c1c1c" stroke-width="1.82"/>
<circle cx="812.00" cy="420.80" r="59.50" fill="none" stroke="#1c1c1c" stroke-width="1.54"/>
<circle cx="812.00" cy="420.80" r="55.00" fill="none" stroke="#1c1c1c" stroke-width="1.54"/>
<rect x="794.80" y="374.20" width="5" height="5" fill="none" stroke="#1c1c1c" stroke-width="1.35"/>
<rect x="804.60" y="374.20" width="5" height="5" fill="none" stroke="#1c1c1c" stroke-width="1.35"/>
<rect x="814.40" y="374.20" width="5" height="5" fill="none" stroke="#1c1c1c" stroke-width="1.35"/>
<rect x="824.20" y="374.20" width="5" height="5" fill="none" stroke="#1c1c1c" stroke-width="1.35"/>
<rect x="775.20" y="384.00" width="5" height="5" fill="none" stroke="#1c1c1c" stroke-width="1.35"/>
<rect x="785.00" y="384.00" width="5" height="5" fill="none" stroke="#1c1c1c" stroke-width="1.35"/>
<rect x="794.80" y="384.00" width="5" height="5" fill="none" stroke="#1c1c1c" stroke-width="1.35"/>
<rect x="804.60" y="384.00" width="5" height="5" fill="none" stroke="#1c1c1c" stroke-width="1.35"/>
<rect x="814.40" y="384.00" width="5" height="5" fill="none" stroke="#1c1c1c" stroke-width="1.35"/>
<rect x="824.20" y="384.00" width="5" height="5" fill="none" stroke="#1c1c1c" stroke-width="1.35"/>
<rect x="834.00" y="384.00" width="5" height="5" fill="none" stroke="#1c1c1c" stroke-width="1.35"/>
<rect x="843.80" y="384.00" width="5" height="5" fill="none" stroke="#1c1c1c" stroke-width="1.35"/>
<rect x="775.20" y="393.80" width="5" height="5" fill="none" stroke="#1c1c1c" stroke-width="1.35"/>
<rect x="785.00" y="393.80" width="5" height="5" fill="none" stroke="#1c1c1c" stroke-width="1.35"/>
<rect x="794.80" y="393.80" width="5" height="5" fill="none" stroke="#1c1c1c" stroke-width="1.35"/>
<rect x="804.60" y="393.80" width="5" height="5" fill="none" stroke="#1c1c1c" stroke-width="1.35"/>
<rect x="814.40" y="393.80" width="5" height="5" fill="none" stroke="#1c1c1c" stroke-width="1.35"/>
<rect x="824.20" y="393.80" width="5" height="5" fill="none" stroke="#1c1c1c" stroke-width="1.35"/>
<rect x="834.00" y="393.80" width="5" height="5" fill="none" stroke="#1c1c1c" stroke-width="1.35"/>
<rect x="843.80" y="393.80" width="5" height="5" fill="none" stroke="#1c1c1c" stroke-width="1.35"/>
<rect x="765.40" y="403.60" width="5" height="5" fill="none" stroke="#1c1c1c" stroke-width="1.35"/>
<rect x="775.20" y="403.60" width="5" height="5" fill="none" stroke="#1c1c1c" stroke-width="1.35"/>
<rect x="785.00" y="403.60" width="5" height="5" fill="none" stroke="#1c1c1c" stroke-width="1.35"/>
<rect x="794.80" y="403.60" width="5" height="5" fill="none" stroke="#1c1c1c" stroke-width="1.35"/>
<rect x="804.60" y="403.60" width="5" height="5" fill="none" stroke="#1c1c1c" stroke-width="1.35"/>
<rect x="814.40" y="403.60" width="5" height="5" fill="none" stroke="#1c1c1c" stroke-width="1.35"/>
<rect x="824.20" y="403.60" width="5" height="5" fill="none" stroke="#1c1c1c" stroke-width="1.35"/>
<rect x="834.00" y="403.60" width="5" height="5" fill="none" stroke="#1c1c1c" stroke-width="1.35"/>
<rect x="843.80" y="403.60" width="5" height="5" fill="none" stroke="#1c1c1c" stroke-width="1.35"/>
<rect x="853.60" y="403.60" width="5" height="5" fill="none" stroke="#1c1c1c" stroke-width="1.35"/>
<rect x="765.40" y="413.40" width="5" height="5" fill="none" stroke="#1c1c1c" stroke-width="1.35"/>
<rect x="775.20" y="413.40" width="5" height="5" fill="none" stroke="#1c1c1c" stroke-width="1.35"/>
<rect x="785.00" y="413.40" width="5" height="5" fill="none" stroke="#1c1c1c" stroke-width="1.35"/>
<rect x="794.80" y="413.40" width="5" height="5" fill="none" stroke="#1c1c1c" stroke-width="1.35"/>
<rect x="804.60" y="413.40" width="5" height="5" fill="none" stroke="#1c1c1c" stroke-width="1.35"/>
<rect x="814.40" y="413.40" width="5" height="5" fill="none" stroke="#1c1c1c" stroke-width="1.35"/>
<rect x="824.20" y="413.40" width="5" height="5" fill="none" stroke="#1c1c1c" stroke-width="1.35"/>
<rect x="834.00" y="413.40" width="5" height="5" fill="none" stroke="#1c1c1c" stroke-width="1.35"/>
<rect x="843.80" y="413.40" width="5" height="5" fill="none" stroke="#1c1c1c" stroke-width="1.35"/>
<rect x="853.60" y="413.40" width="5" height="5" fill="none" stroke="#1c1c1c" stroke-width="1.35"/>
<rect x="765.40" y="423.20" width="5" height="5" fill="none" stroke="#1c1c1c" stroke-width="1.35"/>
<rect x="775.20" y="423.20" width="5" height="5" fill="none" stroke="#1c1c1c" stroke-width="1.35"/>
<rect x="785.00" y="423.20" width="5" height="5" fill="none" stroke="#1c1c1c" stroke-width="1.35"/>
<rect x="794.80" y="423.20" width="5" height="5" fill="none" stroke="#1c1c1c" stroke-width="1.35"/>
<rect x="804.60" y="423.20" width="5" height="5" fill="none" stroke="#1c1c1c" stroke-width="1.35"/>
<rect x="814.40" y="423.20" width="5" height="5" fill="none" stroke="#1c1c1c" stroke-width="1.35"/>
<rect x="824.20" y="423.20" width="5" height="5" fill="none" stroke="#1c1c1c" stroke-width="1.35"/>
<rect x="834.00" y="423.20" width="5" height="5" fill="none" stroke="#1c1c1c" stroke-width="1.35"/>
<rect x="843.80" y="423.20" width="5" height="5" fill="none" stroke="#1c1c1c" stroke-width="1.35"/>
<rect x="853.60" y="423.20" width="5" height="5" fill="none" stroke="#1c1c1c" stroke-width="1.35"/>
<rect x="765.40" y="433.00" width="5" height="5" fill="none" stroke="#1c1c1c" stroke-width="1.35"/>
<rect x="775.20" y="433.00" width="5" height="5" fill="none" stroke="#1c1c1c" stroke-width="1.35"/>
<rect x="785.00" y="433.00" width="5" height="5" fill="none" stroke="#1c1c1c" stroke-width="1.35"/>
<rect x="794.80" y="433.00" width="5" height="5" fill="none" stroke="#1c1c1c" stroke-width="1.35"/>
<rect x="804.60" y="433.00" width="5" height="5" fill="none" stroke="#1c1c1c" stroke-width="1.35"/>
<rect x="814.40" y="433.00" width="5" height="5" fill="none" stroke="#1c1c1c" stroke-width="1.35"/>
<rect x="824.20" y="433.00" width="5" height="5" fill="none" stroke="#1c1c1c" stroke-width="1.35"/>
<rect x="834.00" y="433.00" width="5" height="5" fill="none" stroke="#1c1c1c" stroke-width="1.35"/>
<rect x="843.80" y="433.00" width="5" height="5" fill="none" stroke="#1c1c1c" stroke-width="1.35"/>
<rect x="853.60" y="433.00" width="5" height="5" fill="none" stroke="#1c1c1c" stroke-width="1.35"/>
<rect x="775.20" y="442.80" width="5" height="5" fill="none" stroke="#1c1c1c" stroke-width="1.35"/>
<rect x="785.00" y="442.80" width="5" height="5" fill="none" stroke="#1c1c1c" stroke-width="1.35"/>
<rect x="794.80" y="442.80" width="5" height="5" fill="none" stroke="#1c1c1c" stroke-width="1.35"/>
<rect x="804.60" y="442.80" width="5" height="5" fill="none" stroke="#1c1c1c" stroke-width="1.35"/>
<rect x="814.40" y="442.80" width="5" height="5" fill="none" stroke="#1c1c1c" stroke-width="1.35"/>
<rect x="824.20" y="442.80" width="5" height="5" fill="none" stroke="#1c1c1c" stroke-width="1.35"/>
<rect x="834.00" y="442.80" width="5" height="5" fill="none" stroke="#1c1c1c" stroke-width="1.35"/>
<rect x="843.80" y="442.80" width="5" height="5" fill="none" stroke="#1c1c1c" stroke-width="1.35"/>
<rect x="775.20" y="452.60" width="5" height="5" fill="none" stroke="#1c1c1c" stroke-width="1.35"/>
<rect x="785.00" y="452.60" width="5" height="5" fill="none" stroke="#1c1c1c" stroke-width="1.35"/>
<rect x="794.80" y="452.60" width="5" height="5" fill="none" stroke="#1c1c1c" stroke-width="1.35"/>
<rect x="804.60" y="452.60" width="5" height="5" fill="none" stroke="#1c1c1c" stroke-width="1.35"/>
<rect x="814.40" y="452.60" width="5" height="5" fill="none" stroke="#1c1c1c" stroke-width="1.35"/>
<rect x="824.20" y="452.60" width="5" height="5" fill="none" stroke="#1c1c1c" stroke-width="1.35"/>
<rect x="834.00" y="452.60" width="5" height="5" fill="none" stroke="#1c1c1c" stroke-width="1.35"/>
<rect x="843.80" y="452.60" width="5" height="5" fill="none" stroke="#1c1c1c" stroke-width="1.35"/>
<rect x="794.80" y="462.40" width="5" height="5" fill="none" stroke="#1c1c1c" stroke-width="1.35"/>
<rect x="804.60" y="462.40" width="5" height="5" fill="none" stroke="#1c1c1c" stroke-width="1.35"/>
<rect x="814.40" y="462.40" width="5" height="5" fill="none" stroke="#1c1c1c" stroke-width="1.35"/>
<rect x="824.20" y="462.40" width="5" height="5" fill="none" stroke="#1c1c1c" stroke-width="1.35"/>
<circle cx="812.00" cy="355.80" r="4.60" fill="none" stroke="#1c1c1c" stroke-width="1.54"/>
<line x1="807.00" y1="355.80" x2="817.00" y2="355.80" stroke="#1c1c1c" stroke-width="1.12"/>
<line x1="812.00" y1="350.80" x2="812.00" y2="360.80" stroke="#1c1c1c" stroke-width="1.12"/>
<circle cx="812.00" cy="485.80" r="4.60" fill="none" stroke="#1c1c1c" stroke-width="1.54"/>
<line x1="807.00" y1="485.80" x2="817.00" y2="485.80" stroke="#1c1c1c" stroke-width="1.12"/>
<line x1="812.00" y1="480.80" x2="812.00" y2="490.80" stroke="#1c1c1c" stroke-width="1.12"/>
<circle cx="747.00" cy="420.80" r="4.60" fill="none" stroke="#1c1c1c" stroke-width="1.54"/>
<line x1="742.00" y1="420.80" x2="752.00" y2="420.80" stroke="#1c1c1c" stroke-width="1.12"/>
<line x1="747.00" y1="415.80" x2="747.00" y2="425.80" stroke="#1c1c1c" stroke-width="1.12"/>
<circle cx="877.00" cy="420.80" r="4.60" fill="none" stroke="#1c1c1c" stroke-width="1.54"/>
<line x1="872.00" y1="420.80" x2="882.00" y2="420.80" stroke="#1c1c1c" stroke-width="1.12"/>
<line x1="877.00" y1="415.80" x2="877.00" y2="425.80" stroke="#1c1c1c" stroke-width="1.12"/>
<circle cx="816.00" cy="396.30" r="6.20" fill="none" stroke="#1c1c1c" stroke-width="1.54"/>
<line x1="809.00" y1="396.30" x2="823.00" y2="396.30" stroke="#1c1c1c" stroke-width="1.12"/>
<line x1="812.00" y1="343.00" x2="812.00" y2="500.00" stroke="#1c1c1c" stroke-width="1.40" stroke-dasharray="34 4 4 4"/>
<polyline points="618.20,353.80 599.00,337.00 560.20,377.40 589.00,406.00" fill="none" stroke="#1c1c1c" stroke-width="1.54"/>
<line x1="579.00" y1="357.80" x2="643.00" y2="419.00" stroke="#1c1c1c" stroke-width="1.40"/>
<line x1="618.20" y1="353.80" x2="618.20" y2="367.40" stroke="#1c1c1c" stroke-width="1.40"/>
<line x1="618.20" y1="353.80" x2="625.40" y2="364.20" stroke="#1c1c1c" stroke-width="1.40"/>
<polyline points="672.00,352.80 688.70,334.50 728.60,375.20 703.40,400.40" fill="none" stroke="#1c1c1c" stroke-width="1.40"/>
<polyline points="709.70,343.00 715.30,375.20 744.00,375.20 749.00,343.00" fill="none" stroke="#1c1c1c" stroke-width="1.40"/>
<line x1="672.60" y1="351.40" x2="706.00" y2="347.00" stroke="#1c1c1c" stroke-width="1.26"/>
<line x1="749.60" y1="343.70" x2="764.30" y2="364.00" stroke="#1c1c1c" stroke-width="1.26"/>
<polyline points="831.50,363.80 838.00,353.80 857.00,336.00 896.50,376.30 869.50,400.60" fill="none" stroke="#1c1c1c" stroke-width="1.54"/>
<polyline points="618.20,366.60 618.20,328.60 674.60,328.60 674.60,357.80" fill="none" stroke="#1c1c1c" stroke-width="1.82" stroke-dasharray="4 3"/>
<polyline points="783.00,357.70 783.00,328.60 839.40,328.60 839.40,368.00" fill="none" stroke="#1c1c1c" stroke-width="1.82" stroke-dasharray="4 3"/>
<rect x="688.70" y="333.20" width="80.50" height="9.10" fill="none" stroke="#1c1c1c" stroke-width="1.82" rx="3"/>
<rect x="688.70" y="488.90" width="80.50" height="9.30" fill="none" stroke="#1c1c1c" stroke-width="1.82" rx="3"/>
<path d="M723.6,343.7 A5,5 0 0 0 733.6,343.7" fill="none" stroke="#1c1c1c" stroke-width="1.40"/>
<line x1="728.60" y1="349.00" x2="728.60" y2="488.00" stroke="#1c1c1c" stroke-width="1.40" stroke-dasharray="30 4 4 4"/>
<line x1="728.60" y1="498.00" x2="728.60" y2="505.00" stroke="#1c1c1c" stroke-width="1.40"/>
<path d="M717.4,440.6 Q728.6,448 740.5,440.6" fill="none" stroke="#1c1c1c" stroke-width="1.40"/>
<path d="M700,472 Q710,478 711.8,487.5" fill="none" stroke="#1c1c1c" stroke-width="1.40"/>
<path d="M758,472 Q748,478 746.8,487.5" fill="none" stroke="#1c1c1c" stroke-width="1.40"/>
<circle cx="728.60" cy="482.60" r="7.00" fill="none" stroke="#1c1c1c" stroke-width="1.40"/>
<circle cx="730.00" cy="489.00" r="4.00" fill="none" stroke="#1c1c1c" stroke-width="1.54"/>
<path d="M741.8,489.6 A5,5 0 0 0 751.8,489.6" fill="none" stroke="#1c1c1c" stroke-width="1.40"/>
<line x1="735.60" y1="484.00" x2="931.00" y2="484.00" stroke="#1c1c1c" stroke-width="1.40"/>
<polygon points="718.8,295.4 713.2,313 724.4,313" fill="#1c1c1c"/>
<line x1="718.80" y1="312.00" x2="718.80" y2="328.30" stroke="#1c1c1c" stroke-width="3.36"/>
<polygon points="718.8,506.4 713.2,524 724.4,524" fill="#1c1c1c"/>
<line x1="718.80" y1="523.00" x2="718.80" y2="540.00" stroke="#1c1c1c" stroke-width="3.36"/>
<text x="1.10" y="0" font-size="25.5" text-anchor="middle" style="letter-spacing:2.2px" transform="translate(773.50,300.50) scale(0.86,1)">II</text>
<text x="1.10" y="0" font-size="25.5" text-anchor="middle" style="letter-spacing:2.2px" transform="translate(785.00,537.50) scale(0.86,1)">II</text>
<line x1="766.40" y1="301.70" x2="734.20" y2="338.00" stroke="#1c1c1c" stroke-width="1.40"/>
<polygon points="734.20,338.00 740.40,327.47 743.85,330.51" fill="#1c1c1c"/>
<line x1="763.60" y1="528.80" x2="730.00" y2="489.00" stroke="#1c1c1c" stroke-width="1.40"/>
<polygon points="730.00,489.00 739.55,496.62 736.05,499.61" fill="#1c1c1c"/>
<line x1="812.00" y1="302.00" x2="812.00" y2="447.00" stroke="#1c1c1c" stroke-width="1.40"/>
<line x1="812.00" y1="308.80" x2="897.40" y2="308.80" stroke="#1c1c1c" stroke-width="1.40"/>
<polygon points="812.50,308.80 826.50,305.80 826.50,311.80" fill="#1c1c1c"/>
<polygon points="897.00,308.80 883.00,311.80 883.00,305.80" fill="#1c1c1c"/>
<line x1="897.40" y1="301.60" x2="897.40" y2="377.00" stroke="#1c1c1c" stroke-width="1.40"/>
<text x="1.95" y="0" font-size="25.5" text-anchor="middle" style="letter-spacing:3.9px" transform="translate(853.60,299.00) scale(0.86,1)">144</text>
<line x1="839.40" y1="328.60" x2="1000.00" y2="328.60" stroke="#1c1c1c" stroke-width="1.68"/>
<line x1="857.00" y1="335.80" x2="968.50" y2="335.80" stroke="#1c1c1c" stroke-width="1.68"/>
<line x1="962.20" y1="335.80" x2="962.20" y2="420.80" stroke="#1c1c1c" stroke-width="1.40"/>
<polygon points="962.20,336.30 965.20,350.30 959.20,350.30" fill="#1c1c1c"/>
<polygon points="962.20,420.30 959.20,406.30 965.20,406.30" fill="#1c1c1c"/>
<text x="1.95" y="0" font-size="25.5" text-anchor="middle" style="letter-spacing:3.9px" transform="translate(955.00,380.00) rotate(-90) scale(0.86,1)">144</text>
<line x1="993.00" y1="328.60" x2="993.00" y2="420.80" stroke="#1c1c1c" stroke-width="1.40"/>
<polygon points="993.00,329.00 996.00,343.00 990.00,343.00" fill="#1c1c1c"/>
<polygon points="993.00,420.30 990.00,406.30 996.00,406.30" fill="#1c1c1c"/>
<line x1="924.00" y1="352.00" x2="924.00" y2="484.00" stroke="#1c1c1c" stroke-width="1.40"/>
<polygon points="924.00,396.00 921.00,382.00 927.00,382.00" fill="#1c1c1c"/>
<polygon points="924.00,420.80 927.00,434.80 921.00,434.80" fill="#1c1c1c"/>
<polygon points="924.00,484.00 921.00,470.00 927.00,470.00" fill="#1c1c1c"/>
<line x1="816.00" y1="396.20" x2="930.70" y2="396.20" stroke="#1c1c1c" stroke-width="1.40"/>
<text x="1.95" y="0" font-size="25.5" text-anchor="middle" style="letter-spacing:3.9px" transform="translate(918.00,370.00) rotate(-90) scale(0.86,1)">43</text>
<text x="1.95" y="0" font-size="25.5" text-anchor="middle" style="letter-spacing:3.9px" transform="translate(919.50,455.50) rotate(-90) scale(0.86,1)">137</text>
<line x1="169.50" y1="628.50" x2="169.50" y2="735.50" stroke="#1c1c1c" stroke-width="2.10"/>
<line x1="344.50" y1="628.50" x2="344.50" y2="733.00" stroke="#1c1c1c" stroke-width="1.40"/>
<line x1="169.50" y1="634.00" x2="344.00" y2="634.00" stroke="#1c1c1c" stroke-width="1.40"/>
<polygon points="170.00,634.00 184.00,631.00 184.00,637.00" fill="#1c1c1c"/>
<polygon points="343.50,634.00 329.50,637.00 329.50,631.00" fill="#1c1c1c"/>
<text x="1.95" y="0" font-size="25.5" text-anchor="middle" style="letter-spacing:3.9px" transform="translate(258.00,625.50) scale(0.86,1)">360</text>
<line x1="257.00" y1="645.00" x2="257.00" y2="910.00" stroke="#1c1c1c" stroke-width="2.10" stroke-dasharray="40 5 5 5"/>
<circle cx="169.50" cy="666.80" r="7.00" fill="none" stroke="#1c1c1c" stroke-width="1.54"/>
<circle cx="169.50" cy="709.50" r="14.00" fill="none" stroke="#1c1c1c" stroke-width="1.54"/>
<circle cx="169.50" cy="709.50" r="7.00" fill="none" stroke="#1c1c1c" stroke-width="1.54"/>
<rect x="150.00" y="650.50" width="44.50" height="76.00" fill="none" stroke="#1c1c1c" stroke-width="1.96" stroke-dasharray="6 3"/>
<line x1="158.50" y1="682.00" x2="194.50" y2="682.00" stroke="#1c1c1c" stroke-width="1.96" stroke-dasharray="6 3"/>
<line x1="158.50" y1="650.50" x2="158.50" y2="682.00" stroke="#1c1c1c" stroke-width="1.96" stroke-dasharray="6 3"/>
<line x1="150.00" y1="694.50" x2="184.00" y2="694.50" stroke="#1c1c1c" stroke-width="1.96" stroke-dasharray="6 3"/>
<line x1="184.00" y1="694.50" x2="184.00" y2="726.50" stroke="#1c1c1c" stroke-width="1.96" stroke-dasharray="6 3"/>
<circle cx="344.00" cy="666.80" r="7.00" fill="none" stroke="#1c1c1c" stroke-width="1.54"/>
<circle cx="344.00" cy="709.50" r="14.00" fill="none" stroke="#1c1c1c" stroke-width="1.54"/>
<circle cx="344.00" cy="709.50" r="7.00" fill="none" stroke="#1c1c1c" stroke-width="1.54"/>
<rect x="320.40" y="650.50" width="48.00" height="76.00" fill="none" stroke="#1c1c1c" stroke-width="1.96" stroke-dasharray="6 3"/>
<line x1="330.00" y1="650.50" x2="330.00" y2="682.00" stroke="#1c1c1c" stroke-width="1.96" stroke-dasharray="6 3"/>
<line x1="330.00" y1="682.00" x2="368.40" y2="682.00" stroke="#1c1c1c" stroke-width="1.96" stroke-dasharray="6 3"/>
<line x1="325.00" y1="694.50" x2="362.00" y2="694.50" stroke="#1c1c1c" stroke-width="1.96" stroke-dasharray="6 3"/>
<line x1="362.00" y1="694.50" x2="362.00" y2="726.50" stroke="#1c1c1c" stroke-width="1.96" stroke-dasharray="6 3"/>
<line x1="326.00" y1="666.80" x2="361.00" y2="666.80" stroke="#1c1c1c" stroke-width="1.40"/>
<line x1="153.50" y1="666.80" x2="238.00" y2="666.80" stroke="#1c1c1c" stroke-width="1.40"/>
<line x1="125.00" y1="709.50" x2="184.00" y2="709.50" stroke="#1c1c1c" stroke-width="1.40"/>
<line x1="192.00" y1="709.50" x2="344.00" y2="709.50" stroke="#1c1c1c" stroke-width="1.40" stroke-dasharray="34 5 5 5"/>
<line x1="228.80" y1="666.80" x2="228.80" y2="709.50" stroke="#1c1c1c" stroke-width="1.40"/>
<polygon points="228.80,667.30 232.10,680.30 225.50,680.30" fill="#1c1c1c"/>
<polygon points="228.80,709.00 225.50,696.00 232.10,696.00" fill="#1c1c1c"/>
<text x="1.95" y="0" font-size="25.5" text-anchor="middle" style="letter-spacing:3.9px" transform="translate(220.00,686.00) rotate(-90) scale(0.86,1)">50</text>
<line x1="130.50" y1="709.50" x2="130.50" y2="829.50" stroke="#1c1c1c" stroke-width="1.40"/>
<polygon points="130.50,710.00 133.50,724.00 127.50,724.00" fill="#1c1c1c"/>
<polygon points="130.50,762.00 127.50,748.00 133.50,748.00" fill="#1c1c1c"/>
<polygon points="130.50,762.50 133.50,776.50 127.50,776.50" fill="#1c1c1c"/>
<polygon points="130.50,829.00 127.50,815.00 133.50,815.00" fill="#1c1c1c"/>
<line x1="124.50" y1="762.00" x2="345.00" y2="762.00" stroke="#1c1c1c" stroke-width="1.40" stroke-dasharray="34 5 5 5"/>
<text x="1.95" y="0" font-size="25.5" text-anchor="middle" style="letter-spacing:3.9px" transform="translate(121.50,734.50) rotate(-90) scale(0.86,1)">43</text>
<text x="1.95" y="0" font-size="25.5" text-anchor="middle" style="letter-spacing:3.9px" transform="translate(121.50,797.50) rotate(-90) scale(0.86,1)">137</text>
<line x1="126.00" y1="829.50" x2="246.00" y2="829.50" stroke="#1c1c1c" stroke-width="1.40"/>
<circle cx="257.50" cy="829.50" r="12.00" fill="none" stroke="#1c1c1c" stroke-width="1.54"/>
<circle cx="257.50" cy="829.50" r="5.00" fill="none" stroke="#1c1c1c" stroke-width="1.54"/>
<circle cx="257.50" cy="872.00" r="6.25" fill="none" stroke="#1c1c1c" stroke-width="1.54"/>
<rect x="231.50" y="813.50" width="52.50" height="72.50" fill="none" stroke="#1c1c1c" stroke-width="1.96" stroke-dasharray="6 3"/>
<line x1="242.00" y1="814.00" x2="242.00" y2="843.50" stroke="#1c1c1c" stroke-width="1.96" stroke-dasharray="6 3"/>
<line x1="242.00" y1="843.50" x2="284.00" y2="843.50" stroke="#1c1c1c" stroke-width="1.96" stroke-dasharray="6 3"/>
<line x1="236.00" y1="859.00" x2="272.00" y2="859.00" stroke="#1c1c1c" stroke-width="1.96" stroke-dasharray="6 3"/>
<line x1="272.00" y1="859.00" x2="272.00" y2="880.00" stroke="#1c1c1c" stroke-width="2.24"/>
<line x1="242.00" y1="829.50" x2="280.00" y2="829.50" stroke="#1c1c1c" stroke-width="1.40"/>
<line x1="210.00" y1="872.00" x2="279.00" y2="872.00" stroke="#1c1c1c" stroke-width="1.40"/>
<line x1="214.50" y1="829.50" x2="214.50" y2="871.50" stroke="#1c1c1c" stroke-width="1.40"/>
<polygon points="214.50,830.00 217.80,843.00 211.20,843.00" fill="#1c1c1c"/>
<polygon points="214.50,871.00 211.20,858.00 217.80,858.00" fill="#1c1c1c"/>
<text x="1.95" y="0" font-size="25.5" text-anchor="middle" style="letter-spacing:3.9px" transform="translate(205.50,849.00) rotate(-90) scale(0.86,1)">50</text>
<line x1="260.00" y1="866.00" x2="326.00" y2="866.00" stroke="#1c1c1c" stroke-width="1.40"/>
<line x1="257.50" y1="879.00" x2="326.00" y2="879.00" stroke="#1c1c1c" stroke-width="1.82"/>
<line x1="321.00" y1="796.50" x2="321.00" y2="912.00" stroke="#1c1c1c" stroke-width="1.40"/>
<polygon points="321.00,866.00 318.00,852.00 324.00,852.00" fill="#1c1c1c"/>
<polygon points="321.00,879.00 324.00,893.00 318.00,893.00" fill="#1c1c1c"/>
<text x="1.95" y="0" font-size="25.5" text-anchor="middle" style="letter-spacing:3.9px" transform="translate(315.00,820.50) rotate(-90) scale(0.86,1)">Ø18</text>
<circle cx="728.80" cy="761.30" r="39.70" fill="none" stroke="#1c1c1c" stroke-width="1.26"/>
<circle cx="728.80" cy="761.30" r="31.00" fill="none" stroke="#1c1c1c" stroke-width="1.40" stroke-dasharray="8 3 3 3"/>
<circle cx="728.80" cy="761.30" r="23.60" fill="none" stroke="#1c1c1c" stroke-width="1.40"/>
<circle cx="728.80" cy="761.30" r="12.20" fill="none" stroke="#1c1c1c" stroke-width="1.40"/>
<circle cx="708.50" cy="741.70" r="4.20" fill="none" stroke="#1c1c1c" stroke-width="1.54"/>
<circle cx="749.80" cy="741.70" r="4.20" fill="none" stroke="#1c1c1c" stroke-width="1.54"/>
<circle cx="708.50" cy="783.70" r="4.20" fill="none" stroke="#1c1c1c" stroke-width="1.54"/>
<circle cx="749.80" cy="783.70" r="4.20" fill="none" stroke="#1c1c1c" stroke-width="1.54"/>
<line x1="728.80" y1="722.00" x2="728.80" y2="800.00" stroke="#1c1c1c" stroke-width="1.40" stroke-dasharray="10 3 3 3"/>
<line x1="690.00" y1="761.30" x2="772.00" y2="761.30" stroke="#1c1c1c" stroke-width="1.40" stroke-dasharray="10 3 3 3"/>
<line x1="716.50" y1="695.50" x2="716.50" y2="761.00" stroke="#1c1c1c" stroke-width="1.40"/>
<line x1="741.75" y1="695.50" x2="741.75" y2="761.00" stroke="#1c1c1c" stroke-width="1.40"/>
<line x1="684.00" y1="700.75" x2="716.50" y2="700.75" stroke="#1c1c1c" stroke-width="1.40"/>
<polygon points="716.30,700.75 702.30,703.75 702.30,697.75" fill="#1c1c1c"/>
<line x1="741.75" y1="700.75" x2="866.00" y2="700.75" stroke="#1c1c1c" stroke-width="1.40"/>
<polygon points="742.00,700.75 756.00,697.75 756.00,703.75" fill="#1c1c1c"/>
<text x="1.20" y="0" font-size="25.5" text-anchor="middle" style="letter-spacing:2.4px" transform="translate(896.80,694.00) scale(0.86,1)">DN 32</text>
<line x1="654.25" y1="704.00" x2="654.25" y2="888.00" stroke="#1c1c1c" stroke-width="1.40"/>
<polygon points="654.25,734.00 651.25,720.00 657.25,720.00" fill="#1c1c1c"/>
<polygon points="654.25,744.50 657.25,758.50 651.25,758.50" fill="#1c1c1c"/>
<line x1="645.50" y1="735.00" x2="708.00" y2="735.00" stroke="#1c1c1c" stroke-width="1.40"/>
<line x1="645.50" y1="744.50" x2="708.00" y2="744.50" stroke="#1c1c1c" stroke-width="1.40"/>
<text x="0.80" y="0" font-size="25.5" text-anchor="middle" style="letter-spacing:1.6px" transform="translate(650.50,899.50) rotate(-90) scale(0.86,1)">4 x Ø 19</text>
<line x1="705.00" y1="770.00" x2="705.00" y2="840.00" stroke="#1c1c1c" stroke-width="1.40"/>
<line x1="753.30" y1="770.00" x2="753.30" y2="840.00" stroke="#1c1c1c" stroke-width="1.40"/>
<line x1="705.00" y1="833.75" x2="753.30" y2="833.75" stroke="#1c1c1c" stroke-width="1.40"/>
<polygon points="705.50,833.75 717.50,830.75 717.50,836.75" fill="#1c1c1c"/>
<polygon points="752.80,833.75 740.80,836.75 740.80,830.75" fill="#1c1c1c"/>
<text x="0.90" y="0" font-size="25.5" text-anchor="middle" style="letter-spacing:1.8px" transform="translate(728.00,825.00) scale(0.86,1)">Ø 76</text>
<line x1="698.70" y1="775.00" x2="698.70" y2="875.00" stroke="#1c1c1c" stroke-width="1.40"/>
<line x1="759.25" y1="775.00" x2="759.25" y2="875.00" stroke="#1c1c1c" stroke-width="1.40"/>
<line x1="698.70" y1="868.75" x2="759.25" y2="868.75" stroke="#1c1c1c" stroke-width="1.40"/>
<polygon points="699.20,868.75 711.20,865.75 711.20,871.75" fill="#1c1c1c"/>
<polygon points="758.80,868.75 746.80,871.75 746.80,865.75" fill="#1c1c1c"/>
<text x="1.10" y="0" font-size="25.5" text-anchor="middle" style="letter-spacing:2.2px" transform="translate(728.30,861.50) scale(0.86,1)">Ø 100</text>
<line x1="688.60" y1="761.00" x2="688.60" y2="913.00" stroke="#1c1c1c" stroke-width="1.40"/>
<line x1="768.00" y1="761.00" x2="768.00" y2="913.00" stroke="#1c1c1c" stroke-width="1.40"/>
<line x1="688.60" y1="906.50" x2="768.00" y2="906.50" stroke="#1c1c1c" stroke-width="1.40"/>
<polygon points="689.00,906.50 701.00,903.50 701.00,909.50" fill="#1c1c1c"/>
<polygon points="767.60,906.50 755.60,909.50 755.60,903.50" fill="#1c1c1c"/>
<text x="1.10" y="0" font-size="25.5" text-anchor="middle" style="letter-spacing:2.2px" transform="translate(728.30,897.50) scale(0.86,1)">Ø 140</text>
</svg></body></html>
